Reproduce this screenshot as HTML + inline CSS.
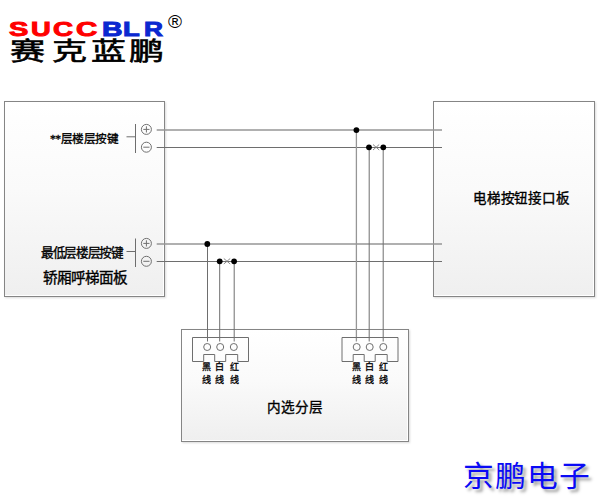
<!DOCTYPE html>
<html lang="zh-CN">
<head>
<meta charset="utf-8">
<style>
html,body{margin:0;padding:0;background:#fff;width:600px;height:500px;overflow:hidden;}
body{position:relative;font-family:"Liberation Serif", serif;color:#000;}
.abs{position:absolute;}
.box{position:absolute;box-sizing:border-box;border:1px solid #858585;
  background:linear-gradient(to bottom,#ffffff 0%,#fafafa 45%,#efefef 100%);
  box-shadow:inset -1px -1px 0 #fff, 1px 1px 2px rgba(0,0,0,0.15);}
.t{position:absolute;white-space:nowrap;line-height:1;}
.c{position:absolute;white-space:nowrap;line-height:1;font-size:9px;font-weight:normal;-webkit-text-stroke:0.3px #000;}
.le{position:absolute;top:18px;font-family:"Liberation Sans",sans-serif;font-weight:bold;font-size:21px;line-height:21px;transform-origin:0 0;-webkit-text-stroke:1px currentColor;}
.lc{position:absolute;top:39px;font-size:25px;line-height:25px;transform-origin:0 0;transform:scaleX(1.4);-webkit-text-stroke:0.6px #000;}
.jp{position:absolute;top:463px;font-family:"Liberation Sans",sans-serif;font-size:29px;line-height:29px;color:#0a0af5;white-space:nowrap;transform-origin:0 0;transform:scaleX(1.06);text-shadow:3px 3px 3px rgba(0,0,0,0.4);}
</style>
</head>
<body>
<!-- logo -->
<div class="le" style="left:9px;color:#ff0000;transform:scaleX(1.38)">S</div>
<div class="le" style="left:31px;color:#ff0000;transform:scaleX(1.3)">U</div>
<div class="le" style="left:53px;color:#ff0000;transform:scaleX(1.32)">C</div>
<div class="le" style="left:76px;color:#ff0000;transform:scaleX(1.4)">C</div>
<div class="le" style="left:102px;color:#0a28d0;transform:scaleX(1.35)">B</div>
<div class="le" style="left:123px;color:#0a28d0;transform:scaleX(1.3)">L</div>
<div class="le" style="left:144px;color:#0a28d0;transform:scaleX(1.25)">R</div>
<div class="abs" style="left:168px;top:12px;font-family:'Liberation Sans',sans-serif;font-size:19px;line-height:19px;">&#174;</div>
<div class="lc" style="left:10px;">赛</div>
<div class="lc" style="left:52px;">克</div>
<div class="lc" style="left:91px;">蓝</div>
<div class="lc" style="left:129px;">鹏</div>

<!-- boxes -->
<div class="box" style="left:4px;top:101px;width:161px;height:196px;"></div>
<div class="box" style="left:433px;top:101px;width:162px;height:196px;"></div>
<div class="box" style="left:181px;top:329px;width:228px;height:113px;"></div>

<svg class="abs" style="left:0;top:0" width="600" height="500" viewBox="0 0 600 500">
  <g stroke="#6e6e6e" stroke-width="1" fill="none">
    <!-- top terminal -->
    <line x1="135.5" y1="124" x2="135.5" y2="153"/>
    <line x1="126.5" y1="136.8" x2="135.5" y2="136.8"/>
    <line x1="156.7" y1="130" x2="442" y2="130" stroke="#969696" stroke-width="1.3"/>
    <line x1="156.7" y1="147.5" x2="442" y2="147.5"/>
    <!-- bottom terminal -->
    <line x1="135.5" y1="238.5" x2="135.5" y2="267"/>
    <line x1="126.5" y1="251.5" x2="135.5" y2="251.5"/>
    <line x1="156.7" y1="244" x2="442" y2="244" stroke="#969696" stroke-width="1.3"/>
    <line x1="156.7" y1="261.5" x2="442" y2="261.5"/>
    <!-- verticals -->
    <line x1="207.5" y1="244" x2="207.5" y2="341.5"/>
    <line x1="219.7" y1="261.5" x2="219.7" y2="341.5"/>
    <line x1="234.2" y1="261.5" x2="234.2" y2="341.5"/>
    <line x1="356.4" y1="130" x2="356.4" y2="341.5" stroke="#969696" stroke-width="1.3"/>
    <line x1="369.2" y1="147.5" x2="369.2" y2="341.5"/>
    <line x1="383.2" y1="147.5" x2="383.2" y2="341.5"/>
  </g>
  <g stroke="#707070" stroke-width="1" fill="none">
    <circle cx="146.4" cy="129.4" r="5"/>
    <line x1="143.3" y1="129.4" x2="149.5" y2="129.4"/>
    <line x1="146.4" y1="126.3" x2="146.4" y2="132.5"/>
    <circle cx="146.4" cy="147.2" r="5"/>
    <line x1="143.3" y1="147.2" x2="149.5" y2="147.2"/>
    <circle cx="146.4" cy="243.4" r="5"/>
    <line x1="143.3" y1="243.4" x2="149.5" y2="243.4"/>
    <line x1="146.4" y1="240.3" x2="146.4" y2="246.5"/>
    <circle cx="146.4" cy="261.3" r="5"/>
    <line x1="143.3" y1="261.3" x2="149.5" y2="261.3"/>
  </g>
  <g stroke="#7c7c7c" stroke-width="0.9" fill="none">
    <line x1="373" y1="144.5" x2="379.2" y2="150"/>
    <line x1="373" y1="150" x2="379.2" y2="144.5"/>
    <line x1="223.8" y1="258.5" x2="230.2" y2="264"/>
    <line x1="223.8" y1="264" x2="230.2" y2="258.5"/>
  </g>
  <g fill="#000">
    <circle cx="356.4" cy="130.1" r="2.9"/>
    <circle cx="369" cy="147.3" r="2.9"/>
    <circle cx="383.3" cy="147.3" r="2.9"/>
    <circle cx="207.3" cy="244" r="2.9"/>
    <circle cx="219.7" cy="261.3" r="2.9"/>
    <circle cx="234.1" cy="261.3" r="2.9"/>
  </g>
  <g stroke="#6e6e6e" stroke-width="1" fill="none">
    <path d="M192.5 337.5 H248.5 V361.5 H237.7 V354.5 H225.7 V361.5 H214.7 V354.5 H203.7 V361.5 H192.5 Z"/><circle cx="207.2" cy="347" r="3.5"/><circle cx="220.2" cy="347" r="3.5"/><circle cx="233.8" cy="347" r="3.5"/>
    <path d="M342.0 337.5 H398.0 V361.5 H387.2 V354.5 H375.2 V361.5 H364.2 V354.5 H353.2 V361.5 H342.0 Z"/><circle cx="356.7" cy="347" r="3.5"/><circle cx="369.7" cy="347" r="3.5"/><circle cx="383.3" cy="347" r="3.5"/>
  </g>
</svg>

<!-- texts -->
<div class="t" style="left:50px;top:134px;font-size:11.6px;letter-spacing:-0.5px;font-weight:normal;-webkit-text-stroke:0.35px #000;">**层楼层按键</div>
<div class="t" style="left:41px;top:247px;font-size:12.6px;letter-spacing:-1.35px;font-weight:normal;-webkit-text-stroke:0.35px #000;">最低层楼层按键</div>
<div class="t" style="left:43px;top:271px;font-size:14.6px;letter-spacing:-1px;font-weight:normal;-webkit-text-stroke:0.35px #000;">轿厢呼梯面板</div>
<div class="t" style="left:473px;top:192px;font-size:13.5px;letter-spacing:0.75px;font-weight:normal;-webkit-text-stroke:0.35px #000;">电梯按钮接口板</div>
<div class="t" style="left:267px;top:401px;font-size:13.6px;font-weight:normal;-webkit-text-stroke:0.35px #000;">内选分层</div>

<div class="c" style="left:202px;top:363px;">黑</div>
<div class="c" style="left:202px;top:376px;">线</div>
<div class="c" style="left:215px;top:363px;">白</div>
<div class="c" style="left:215px;top:376px;">线</div>
<div class="c" style="left:229.5px;top:363px;">红</div>
<div class="c" style="left:229.5px;top:376px;">线</div>
<div class="c" style="left:351.5px;top:363px;">黑</div>
<div class="c" style="left:351.5px;top:376px;">线</div>
<div class="c" style="left:364.5px;top:363px;">白</div>
<div class="c" style="left:364.5px;top:376px;">线</div>
<div class="c" style="left:379.0px;top:363px;">红</div>
<div class="c" style="left:379.0px;top:376px;">线</div>

<div class="jp" style="left:463px">京</div>
<div class="jp" style="left:495px">鹏</div>
<div class="jp" style="left:526.5px">电</div>
<div class="jp" style="left:559px">子</div>
</body>
</html>
